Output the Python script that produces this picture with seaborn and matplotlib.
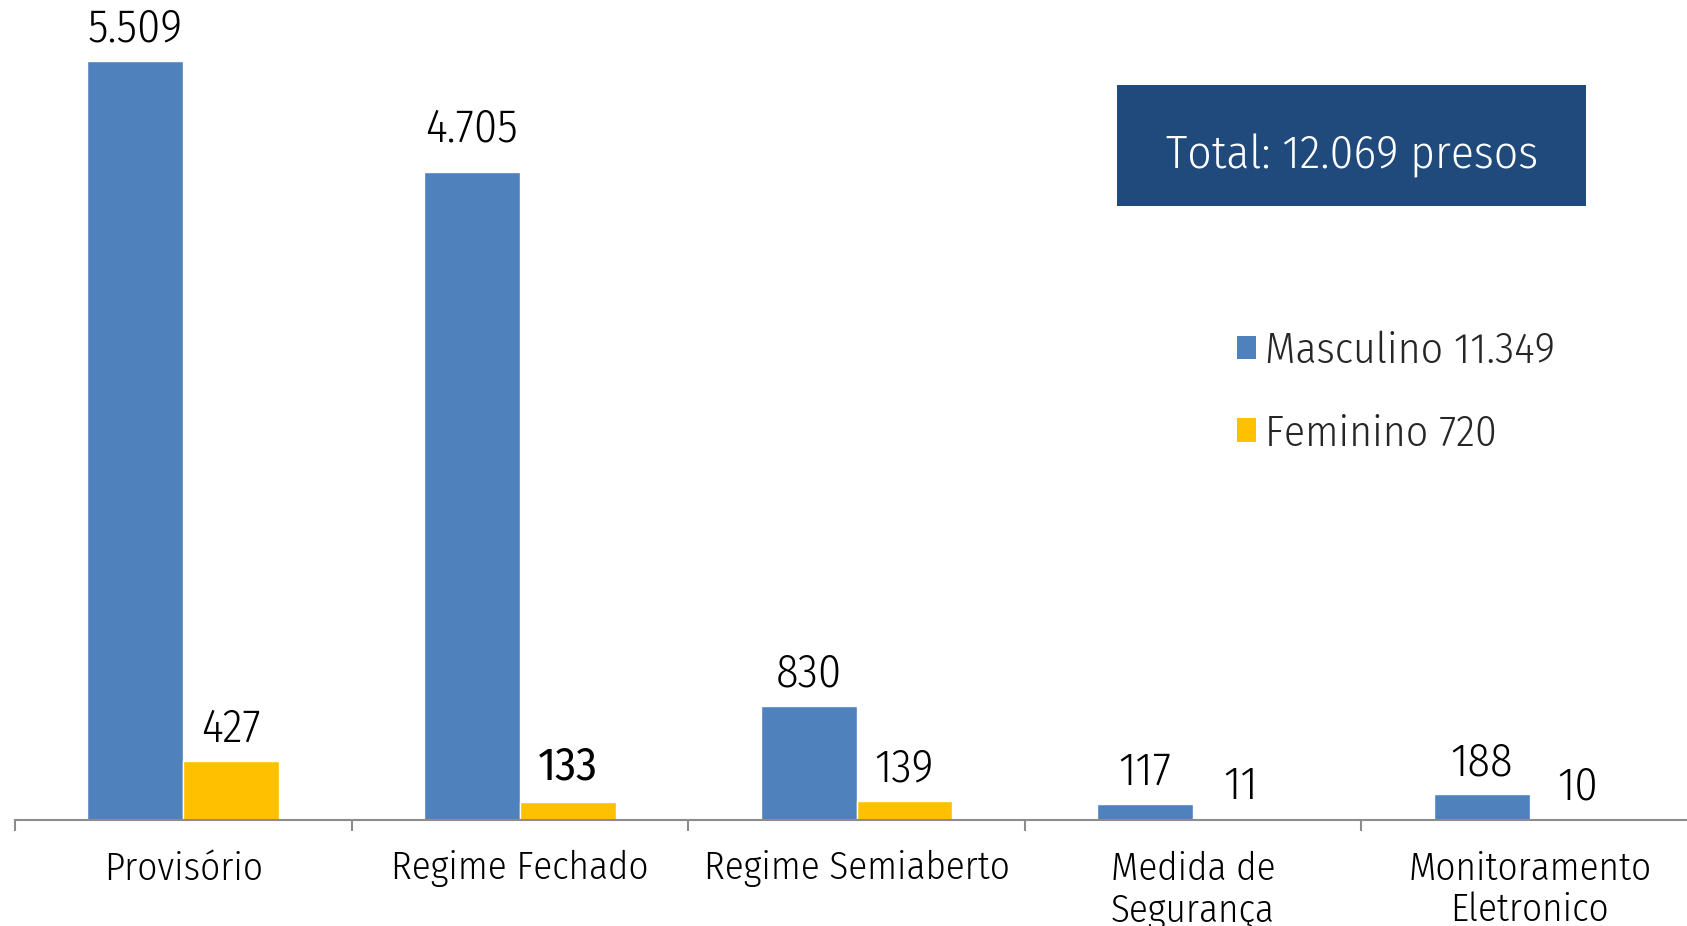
import matplotlib
matplotlib.use("Agg")
import matplotlib.pyplot as plt
import seaborn as sns
import pandas as pd
from matplotlib import font_manager as fm
from matplotlib.font_manager import FontProperties
from matplotlib.textpath import TextPath
from matplotlib.patches import Rectangle
from matplotlib.ticker import FixedLocator

categories = ["Provisório", "Regime Fechado", "Regime Semiaberto",
              "Medida de\nSegurança", "Monitoramento\nEletronico"]
masculino = [5509, 4705, 830, 117, 188]
feminino = [427, 133, 139, 11, 10]
series_names = ["Masculino 11.349", "Feminino 720"]
total_text = "Total: 12.069 presos"
colors = ["#4F81BD", "#FFC000"]

sns.set_theme(style="white")

_names = {f.name for f in fm.fontManager.ttflist}
if "Fira Sans Condensed" in _names:
    FAM, STRETCH = "Fira Sans Condensed", "normal"
else:
    FAM, STRETCH = "DejaVu Sans", "condensed"
FAMILY = [FAM, "DejaVu Sans"]
plt.rcParams["font.family"] = FAMILY
W = 300  # light weight


def fprop(weight=W):
    return FontProperties(family=FAMILY, weight=weight, stretch=STRETCH)


def ink(text, weight=W):
    return TextPath((0, 0), text, size=100, prop=fprop(weight)).get_extents()


def fit(text, target_px, weight=W):
    return target_px * 72 / ink(text, weight).width


def em(fs):
    return fs * 100 / 72


FIG_W, FIG_H = 1687, 926
BASE_Y = 820

fs_tick = fit("Provisório", 153)
fs_val = fit("5.509", 91)
fs_leg = fit("Masculino 11.349", 285)
fs_tot = fit(total_text, 369)

asc_l = ink("l").ymax / 100
lp_ext = ink("lp")
lp_h = lp_ext.height / 100

df = pd.DataFrame({
    "cat": categories * 2,
    "serie": [series_names[0]] * len(categories) + [series_names[1]] * len(categories),
    "valor": masculino + feminino,
})

fig = plt.figure(figsize=(FIG_W / 100, FIG_H / 100), dpi=100)
ax = fig.add_axes([15 / FIG_W, (FIG_H - BASE_Y) / FIG_H, 1683 / FIG_W, BASE_Y / FIG_H])

sns.barplot(data=df, x="cat", y="valor", hue="serie", palette=colors,
            width=0.57, gap=0, saturation=1, ax=ax, legend=True)

ax.set_ylim(0, 5951)
ax.set_xlim(-0.5, len(categories) - 0.5)
ax.set_xlabel("")
ax.set_ylabel("")
ax.set_yticks([])
for s in ["top", "right", "left"]:
    ax.spines[s].set_visible(False)
ax.spines["bottom"].set_color("#8C8C8C")
ax.spines["bottom"].set_linewidth(1.5)

# tick labels: baseline of first line ~879 px
tick_pad_px = (879 - BASE_Y) - asc_l * em(fs_tick)
ax.set_xticks(range(len(categories)))
ax.set_xticklabels(categories, fontsize=fs_tick, color="black",
                   linespacing=33.5 / (asc_l * em(fs_tick)),
                   fontweight=W, fontstretch=STRETCH)
ax.tick_params(axis="x", which="major", length=0, pad=tick_pad_px * 0.72)
ax.xaxis.set_minor_locator(FixedLocator([i - 0.5 for i in range(len(categories) + 1)]))
ax.tick_params(axis="x", which="minor", bottom=True, length=8, width=1.5,
               color="#8C8C8C", direction="out")

extra_offsets = {"4.705": 8.0, "133": 2.0}
for cont in ax.containers:
    for bar in cont:
        h = bar.get_height()
        lbl = f"{int(round(h)):,}".replace(",", ".")
        weight = 400 if lbl == "133" else W
        extra = extra_offsets.get(lbl, 0)
        ax.annotate(lbl, (bar.get_x() + bar.get_width() / 2, h),
                    xytext=(0, 13.7 + extra), textcoords="offset points",
                    ha="center", va="baseline", fontsize=fs_val, color="black",
                    fontweight=weight, fontstretch=STRETCH)

leg = ax.get_legend()
if leg is not None:
    leg.remove()

em_leg = em(fs_leg)
sq = 19
handles = [Rectangle((0, 0), 1, 1, facecolor=c, edgecolor="none") for c in colors]
leg_top_px = 363 - asc_l * em_leg
fig.legend(handles, series_names, loc="upper left",
           bbox_to_anchor=(1237 / FIG_W, 1 - leg_top_px / FIG_H),
           frameon=False, prop=FontProperties(family=FAMILY, weight=W, stretch=STRETCH, size=fs_leg),
           handlelength=sq / em_leg, handleheight=sq / em_leg,
           handletextpad=9 / em_leg, labelspacing=(83 - lp_h * em_leg) / em_leg,
           borderpad=0, borderaxespad=0)

fig.patches.append(Rectangle((1117 / FIG_W, 1 - 206 / FIG_H), (1586 - 1117) / FIG_W, (206 - 85) / FIG_H,
                             transform=fig.transFigure, facecolor="#214A7C",
                             edgecolor="none", zorder=5))
fig.text(1352 / FIG_W, 1 - 168 / FIG_H, total_text, ha="center", va="baseline",
         color="white", fontsize=fs_tot, fontweight=W, fontstretch=STRETCH, zorder=6)

fig.savefig("out.png", dpi=100)
